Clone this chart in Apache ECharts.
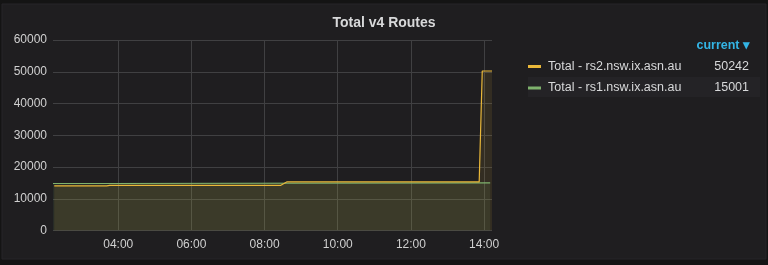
<!DOCTYPE html>
<html><head><meta charset="utf-8">
<script src="https://cdn.jsdelivr.net/npm/echarts@6/dist/echarts.min.js"></script>
<style>html,body{margin:0;padding:0;background:#141414;}#c{width:768px;height:265px;}</style>
</head><body><div id="c"></div>
<script>
// Data (time as HH:MM, values = route counts)
const titleText = 'Total v4 Routes';
const rs2Name = 'Total - rs2.nsw.ix.asn.au';
const rs1Name = 'Total - rs1.nsw.ix.asn.au';
const rs2Times  = ['02:15', '03:41', '03:46', '08:26', '08:37', '13:52', '13:57', '14:13'];
const rs2Values = [14050, 14050, 14200, 14200, 15350, 15300, 50242, 50242];
const rs1Times  = ['02:13', '03:44', '03:47', '14:10'];
const rs1Values = [14800, 14800, 15000, 15001];
const xMinTime = '02:13';
const xMaxTime = '14:13';
const yTicks = [0, 10000, 20000, 30000, 40000, 50000, 60000];

function toH(s){ const p = s.split(':'); return +p[0] + (+p[1])/60; }
function pairs(t, v){ return t.map((s,i)=>[toH(s), v[i]]); }
const last2 = rs2Values[rs2Values.length-1];
const last1 = rs1Values[rs1Values.length-1];

const chart = echarts.init(document.getElementById('c'), null, {renderer:'canvas'});
const FONT = '"Liberation Sans", Arial, sans-serif';
const grid = '#404042';
function legendFmt(name){
  const v = name === rs2Name ? last2 : last1;
  return '{n|' + name + '}{v|' + v + '}';
}
const legendCommon = {
  orient:'vertical', left:528, icon:'rect', itemWidth:13, itemHeight:3, itemGap:4, padding:0,
  selectedMode:false,
  formatter: legendFmt,
  textStyle:{ fontFamily:FONT, fontSize:12.5, color:'#d8d9da', padding:[0,0,0,2],
    rich:{ n:{ width:150, fontFamily:FONT, fontSize:12.5, color:'#d8d9da' },
           v:{ width:51, align:'right', fontFamily:FONT, fontSize:12.5, color:'#d8d9da' } } }
};
chart.setOption({
  animation:false,
  backgroundColor:'#141414',
  title:{ text:titleText, left:'center', top:11,
    textStyle:{ fontFamily:FONT, fontSize:14, fontWeight:'bold', color:'#d8d9da' } },
  graphic:[
    { type:'rect', z:-100, shape:{x:2,y:4,width:764,height:255}, style:{fill:'#1f1e20', stroke:'#262528', lineWidth:1} },
    { type:'rect', z:-90, shape:{x:528,y:77,width:232,height:20}, style:{fill:'#242326'} },
    { type:'text', right:18, top:39, style:{ text:'current ▾', fill:'#33b5e5', font:'bold 12.5px "Liberation Sans", Arial, sans-serif' } }
  ],
  legend:[
    Object.assign({}, legendCommon, { data:[rs2Name], top:60 }),
    Object.assign({}, legendCommon, { data:[rs1Name], top:81.5 })
  ],
  grid:{ left:53, top:40, right:276, bottom:34.5, outerBoundsMode:'none', containLabel:false },
  xAxis:{ type:'value', min:toH(xMinTime), max:toH(xMaxTime), splitNumber:6,
    axisLine:{show:false}, axisTick:{show:false},
    axisLabel:{ showMinLabel:false, showMaxLabel:false, margin:8, fontFamily:FONT, fontSize:12, color:'#d0d0d0',
      formatter:v=>{ const h = Math.round(v); return (h<10?'0':'')+h+':00'; } },
    splitLine:{ show:true, showMinLine:false, showMaxLine:false, lineStyle:{color:grid, width:1} } },
  yAxis:{ type:'value', min:yTicks[0], max:yTicks[yTicks.length-1], interval:yTicks[1]-yTicks[0],
    axisLine:{show:false}, axisTick:{show:false},
    axisLabel:{ margin:6, fontFamily:FONT, fontSize:12, color:'#d0d0d0', formatter:v=>String(v) },
    splitLine:{ show:true, lineStyle:{color:grid, width:1} } },
  series:[
    { name:rs1Name, type:'line', data:pairs(rs1Times, rs1Values), showSymbol:false, silent:true,
      color:'#7eb26d', lineStyle:{color:'#7eb26d', width:1.2}, itemStyle:{color:'#7eb26d'},
      areaStyle:{color:'#7eb26d', opacity:0.1} },
    { name:rs2Name, type:'line', data:pairs(rs2Times, rs2Values), showSymbol:false, silent:true,
      color:'#eab839', lineStyle:{color:'#eab839', width:1.2}, itemStyle:{color:'#eab839'},
      areaStyle:{color:'#eab839', opacity:0.1} }
  ]
});
</script></body></html>
